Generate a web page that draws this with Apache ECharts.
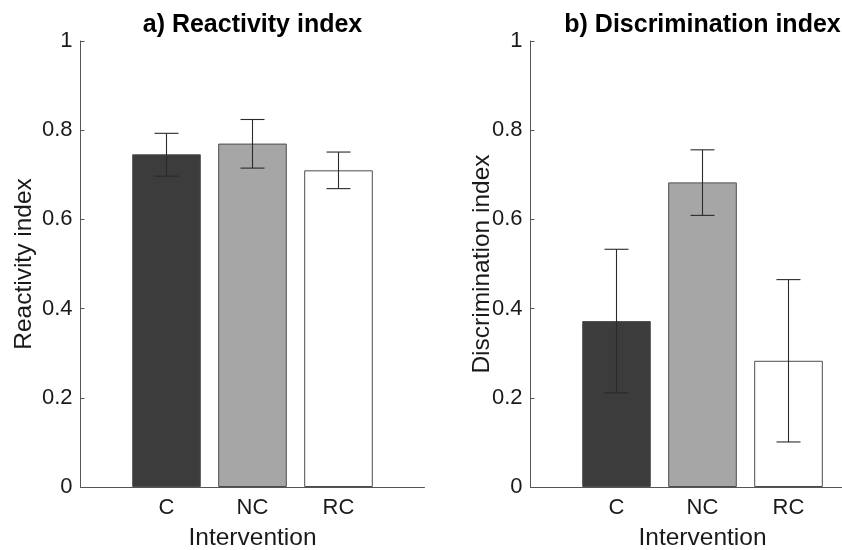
<!DOCTYPE html>
<html>
<head>
<meta charset="utf-8">
<script src="https://cdn.jsdelivr.net/npm/echarts@6/dist/echarts.min.js"></script>
<style>
html,body{margin:0;padding:0;background:#fff;}
#c{width:842px;height:550px;}
</style>
</head>
<body>
<div id="c"></div>
<script>
// ---- data ----
const categories = ['C', 'NC', 'RC'];
const reactivityMean = [0.746, 0.770, 0.710];
const reactivityLow  = [0.697, 0.715, 0.669];
const reactivityHigh = [0.793, 0.824, 0.751];
const discriminationMean = [0.372, 0.683, 0.283];
const discriminationLow  = [0.211, 0.609, 0.101];
const discriminationHigh = [0.533, 0.756, 0.465];
const yTicks = [0, 0.2, 0.4, 0.6, 0.8, 1];
const titles = ['a) Reactivity index', 'b) Discrimination index'];
const yNames = ['Reactivity index', 'Discrimination index'];
const xName = 'Intervention';

// ---- styles ----
const barFills = ['#3c3c3c', '#a6a6a6', '#ffffff'];
const FONT = 'Liberation Sans, Arial, sans-serif';
const axisColor = '#555555';
const textColor = '#1a1a1a';
const gridLefts = [80.5, 530.5];
const GRID_W = 344, GRID_TOP = 41, GRID_H = 446;

function barData(means) {
  return means.map((v, i) => ({
    value: [i + 1, v],
    itemStyle: { color: barFills[i], borderColor: '#4d4d4d', borderWidth: 1 }
  }));
}
function errData(lo, hi) {
  return lo.map((l, i) => [i + 1, l, hi[i]]);
}
function renderErr(params, api) {
  const x = api.value(0);
  const p1 = api.coord([x, api.value(1)]);
  const p2 = api.coord([x, api.value(2)]);
  const hw = 12;
  const st = { stroke: '#2a2a2a', lineWidth: 1.1 };
  return {
    type: 'group',
    children: [
      { type: 'line', shape: { x1: p1[0], y1: p1[1], x2: p2[0], y2: p2[1] }, style: st },
      { type: 'line', shape: { x1: p1[0] - hw, y1: p1[1], x2: p1[0] + hw, y2: p1[1] }, style: st },
      { type: 'line', shape: { x1: p2[0] - hw, y1: p2[1], x2: p2[0] + hw, y2: p2[1] }, style: st }
    ]
  };
}

const yNameGaps = [43.5, 36];
const grids = [], xAxes = [], yAxes = [], series = [], graphics = [];
[[reactivityMean, reactivityLow, reactivityHigh], [discriminationMean, discriminationLow, discriminationHigh]].forEach((d, k) => {
  grids.push({ left: gridLefts[k], top: GRID_TOP, width: GRID_W, height: GRID_H, containLabel: false, outerBoundsMode: 'none' });
  xAxes.push({
    type: 'value', gridIndex: k, min: 0, max: 4, interval: 1,
    splitLine: { show: false },
    axisLine: { show: true, lineStyle: { color: axisColor, width: 1 } },
    axisTick: { show: false },
    axisLabel: {
      margin: 10, fontSize: 22, color: textColor, fontFamily: FONT,
      formatter: v => (v >= 1 && v <= categories.length && Number.isInteger(v)) ? categories[v - 1] : ''
    },
    name: xName, nameLocation: 'middle', nameGap: 39, nameMoveOverlap: false,
    nameTextStyle: { fontSize: 24.5, color: textColor, fontFamily: FONT }
  });
  yAxes.push({
    type: 'value', gridIndex: k, min: 0, max: 1, interval: 0.2,
    splitLine: { show: false },
    axisLine: { show: true, lineStyle: { color: axisColor, width: 1 } },
    axisTick: { show: true, inside: true, length: 4, lineStyle: { color: axisColor } },
    axisLabel: {
      margin: 8, fontSize: 22, color: textColor, fontFamily: FONT,
      formatter: v => String(+v.toFixed(1))
    },
    name: yNames[k], nameLocation: 'middle', nameGap: yNameGaps[k], nameRotate: 90, nameMoveOverlap: false,
    nameTextStyle: { fontSize: 24.5, color: textColor, fontFamily: FONT }
  });
  series.push({
    type: 'bar', xAxisIndex: k, yAxisIndex: k, barWidth: 68.6,
    data: barData(d[0]), silent: true, animation: false
  });
  series.push({
    type: 'custom', xAxisIndex: k, yAxisIndex: k, renderItem: renderErr,
    encode: { x: 0, y: [1, 2] }, data: errData(d[1], d[2]), silent: true, animation: false, z: 5
  });
  graphics.push({
    type: 'text', x: gridLefts[k] + GRID_W / 2, y: 25,
    style: { text: titles[k], font: 'bold 25px ' + FONT, fill: '#000', textAlign: 'center', textVerticalAlign: 'middle' }
  });
});

const chart = echarts.init(document.getElementById('c'), null, { renderer: 'canvas' });
chart.setOption({
  animation: false,
  backgroundColor: '#ffffff',
  grid: grids, xAxis: xAxes, yAxis: yAxes, series: series,
  graphic: graphics
});
</script>
</body>
</html>
